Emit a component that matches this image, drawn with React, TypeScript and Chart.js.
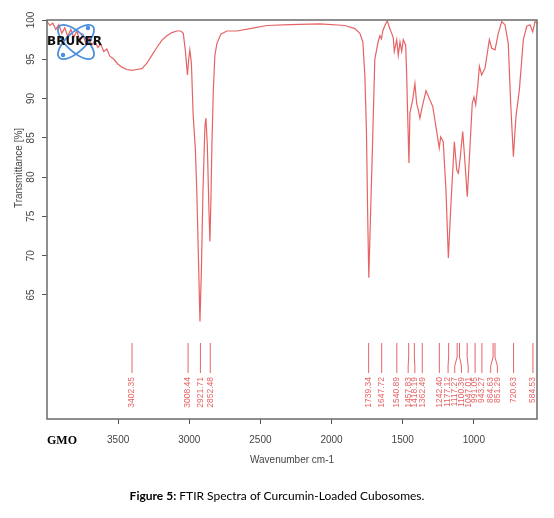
import React, { useEffect, useRef } from "react";
import { Chart, registerables } from "chart.js";
Chart.register(...registerables);

// Spectrum (wavenumber cm-1 -> transmittance %)
const wavenumbers = [
  4000, 3980, 3959, 3938, 3917, 3896, 3875, 3854, 3833, 3812,
  3790, 3769, 3748, 3727, 3706, 3685, 3664, 3643, 3622, 3601,
  3580, 3558, 3530, 3502, 3474, 3439, 3404, 3369, 3333, 3298,
  3263, 3228, 3193, 3158, 3122, 3087, 3059, 3042, 3027, 3013,
  3004, 2996, 2985, 2973, 2957, 2947, 2936, 2925, 2915, 2904,
  2890, 2883, 2873, 2862, 2855, 2848, 2841, 2831, 2820, 2806,
  2778, 2736, 2665, 2574, 2454, 2293, 2082, 1906, 1836, 1801,
  1780, 1766, 1755, 1745, 1738, 1731, 1720, 1710, 1696, 1673,
  1660, 1649, 1640, 1625, 1608, 1593, 1577, 1566, 1559, 1542,
  1531, 1519, 1507, 1496, 1479, 1472, 1465, 1456, 1449, 1430,
  1414, 1402, 1390, 1379, 1362, 1336, 1308, 1289, 1266, 1243,
  1233, 1215, 1196, 1179, 1162, 1137, 1120, 1109, 1097, 1078,
  1062, 1046, 1027, 1011, 999, 987, 973, 961, 945, 921,
  905, 891, 874, 851, 828, 804, 781, 758, 741, 722,
  704, 680, 652, 628, 605, 586, 570, 556,
];
const transmittance = [
  99.8, 99.3, 99.6, 98.8, 99.4, 98.3, 99.0, 97.9, 98.8, 97.8,
  98.6, 97.3, 98.2, 97.0, 97.8, 96.8, 97.3, 96.5, 96.9, 96.0,
  96.3, 95.4, 95.0, 94.4, 94.0, 93.7, 93.6, 93.7, 93.8, 94.5,
  95.5, 96.5, 97.4, 98.0, 98.4, 98.6, 98.6, 98.3, 96.0, 93.0,
  95.0, 96.2, 94.5, 88.0, 83.5, 78.0, 70.0, 61.6, 68.0, 78.0,
  86.5, 87.5, 84.0, 76.0, 71.8, 77.0, 84.0, 91.0, 95.5, 97.0,
  98.2, 98.6, 98.6, 98.9, 99.3, 99.4, 99.5, 99.3, 98.9, 98.3,
  97.2, 93.0, 86.0, 74.0, 67.2, 72.0, 79.0, 85.5, 95.0, 97.2,
  98.0, 97.6, 98.6, 99.3, 99.9, 99.0, 98.3, 97.7, 96.0, 97.5,
  95.5, 97.2, 96.0, 97.5, 96.8, 93.0, 87.9, 81.8, 88.2, 89.8,
  91.9, 89.4, 88.5, 87.5, 89.0, 91.0, 89.8, 89.0, 86.4, 83.7,
  85.1, 84.5, 78.4, 69.7, 76.2, 84.5, 80.9, 80.5, 82.2, 85.8,
  81.8, 77.5, 83.9, 89.4, 90.2, 89.2, 91.5, 94.1, 93.0, 93.9,
  95.8, 97.5, 96.4, 96.2, 98.3, 99.8, 99.4, 97.0, 89.4, 82.6,
  87.7, 91.1, 97.5, 99.2, 99.4, 98.5, 99.8, 99.6,
];

const xTicks = [3500, 3000, 2500, 2000, 1500, 1000];
const yTicks = [65, 70, 75, 80, 85, 90, 95, 100];
const xMin = 556;
const xMax = 4000;
const yMin = 49.2;
const yMax = 100;

const peakWavenumbers = [
  3402.35, 3008.44, 2921.71, 2852.48, 1739.34, 1647.72, 1540.89,
  1457.83, 1418.19, 1362.49, 1242.4, 1177.12, 1117.27, 1100.39,
  1047.01, 991.05, 943.27, 864.63, 851.29, 720.63, 584.53,
];
const peakLabels = peakWavenumbers.map((v) => v.toFixed(2));

const xTitle = "Wavenumber cm-1";
const yTitle = "Transmittance [%]";
const sampleName = "GMO";
const logoText = "BRUKER";

const RED = "rgba(226,72,74,0.85)";

function spreadLabels(xs: number[], gap: number): number[] {
  let groups = xs.map((x, i) => ({ idx: [i], sum: x }));
  let merged = true;
  while (merged) {
    merged = false;
    for (let i = 0; i < groups.length - 1; i++) {
      const g = groups[i];
      const h = groups[i + 1];
      const gc = g.sum / g.idx.length;
      const hc = h.sum / h.idx.length;
      const gRight = gc + ((g.idx.length - 1) / 2) * gap;
      const hLeft = hc - ((h.idx.length - 1) / 2) * gap;
      if (gRight + gap > hLeft) {
        groups.splice(i, 2, { idx: g.idx.concat(h.idx), sum: g.sum + h.sum });
        merged = true;
        break;
      }
    }
  }
  const out: number[] = new Array(xs.length);
  for (const g of groups) {
    const c = g.sum / g.idx.length;
    g.idx.forEach((id, k) => {
      out[id] = c + (k - (g.idx.length - 1) / 2) * gap;
    });
  }
  return out;
}

const overlayPlugin = {
  id: "overlay",
  afterDraw(chart: any) {
    const { ctx, chartArea: a, scales } = chart;
    const xs = scales.x;
    const ys = scales.y;
    ctx.save();

    // frame
    ctx.strokeStyle = "#6a6a6a";
    ctx.lineWidth = 1.5;
    ctx.strokeRect(a.left, a.top, a.right - a.left, a.bottom - a.top);

    // y tick labels (rotated)
    ctx.fillStyle = "#444";
    ctx.font = '10px "Liberation Sans", Arial, sans-serif';
    for (const v of yTicks) {
      const y = ys.getPixelForValue(v);
      ctx.save();
      ctx.translate(a.left - 15.5, y);
      ctx.rotate(-Math.PI / 2);
      ctx.textAlign = "center";
      ctx.textBaseline = "middle";
      ctx.fillText(String(v), 0, 0);
      ctx.restore();
    }

    // y title
    ctx.save();
    ctx.translate(a.left - 28, a.top + 148);
    ctx.rotate(-Math.PI / 2);
    ctx.textAlign = "center";
    ctx.textBaseline = "middle";
    ctx.fillStyle = "#444";
    ctx.font = '10px "Liberation Sans", Arial, sans-serif';
    ctx.fillText(yTitle, 0, 0);
    ctx.restore();

    // x title
    ctx.fillStyle = "#444";
    ctx.font = '10px "Liberation Sans", Arial, sans-serif';
    ctx.textAlign = "center";
    ctx.textBaseline = "middle";
    ctx.fillText(xTitle, (a.left + a.right) / 2, a.bottom + 41);

    // sample name
    ctx.fillStyle = "#000";
    ctx.font = 'bold 12px "Liberation Serif", "Times New Roman", serif';
    ctx.textAlign = "left";
    ctx.fillText(sampleName, a.left, a.bottom + 22);

    // peak markers
    const px = peakWavenumbers.map((w) => xs.getPixelForValue(w));
    const lx = spreadLabels(px, 6.7);
    ctx.strokeStyle = RED;
    ctx.lineWidth = 1;
    ctx.fillStyle = RED;
    ctx.font = '8.5px "Liberation Sans", Arial, sans-serif';
    px.forEach((x, i) => {
      const l = lx[i];
      ctx.beginPath();
      ctx.moveTo(x, a.bottom - 76);
      ctx.lineTo(x, a.bottom - 62);
      ctx.lineTo(l, a.bottom - 53);
      ctx.lineTo(l, a.bottom - 46);
      ctx.stroke();
      ctx.save();
      ctx.translate(l, a.bottom - 42);
      ctx.rotate(-Math.PI / 2);
      ctx.textAlign = "right";
      ctx.textBaseline = "middle";
      ctx.fillText(peakLabels[i], 0, 0);
      ctx.restore();
    });

    // logo
    const cx = a.left + 29;
    const cy = a.top + 22;
    ctx.strokeStyle = "#4a8fdc";
    ctx.fillStyle = "#4a8fdc";
    ctx.lineWidth = 1.8;
    [0.75, -0.75].forEach((ang) => {
      ctx.beginPath();
      ctx.ellipse(cx, cy, 23, 9.5, ang, 0, Math.PI * 2);
      ctx.stroke();
    });
    ctx.beginPath();
    ctx.arc(cx - 13, cy + 13, 2.2, 0, Math.PI * 2);
    ctx.fill();
    ctx.beginPath();
    ctx.arc(cx + 12, cy - 14, 2.2, 0, Math.PI * 2);
    ctx.fill();
    ctx.fillStyle = "#111";
    ctx.font = 'bold 12px "DejaVu Sans", sans-serif';
    ctx.textAlign = "left";
    ctx.textBaseline = "middle";
    ctx.fillText(logoText, a.left, cy);

    ctx.restore();
  },
};

export default function App() {
  const canvasRef = useRef<HTMLCanvasElement | null>(null);

  useEffect(() => {
    const canvas = canvasRef.current;
    if (!canvas) return;
    const points = wavenumbers.map((w, i) => ({ x: w, y: transmittance[i] }));
    const chart = new Chart(canvas, {
      type: "line",
      data: {
        datasets: [
          {
            data: points,
            borderColor: RED,
            borderWidth: 1.2,
            pointRadius: 0,
            tension: 0,
            fill: false,
          },
        ],
      },
      options: {
        responsive: false,
        animation: false,
        devicePixelRatio: 1,
        layout: { padding: { left: 0, right: 17, top: 20, bottom: 0 } },
        plugins: { legend: { display: false }, tooltip: { enabled: false } },
        scales: {
          x: {
            type: "linear",
            reverse: true,
            min: xMin,
            max: xMax,
            afterBuildTicks: (s: any) => {
              s.ticks = xTicks.map((v) => ({ value: v }));
            },
            afterFit: (s: any) => {
              s.height = 99;
            },
            ticks: {
              color: "#444",
              font: { family: "Liberation Sans", size: 10 },
              padding: 10,
              maxRotation: 0,
              autoSkip: false,
              callback: (v: any) => String(v),
            },
            grid: {
              drawOnChartArea: false,
              drawTicks: true,
              tickLength: 5,
              color: "#555",
            },
            border: { display: false },
          },
          y: {
            type: "linear",
            min: yMin,
            max: yMax,
            afterBuildTicks: (s: any) => {
              s.ticks = yTicks.map((v) => ({ value: v }));
            },
            afterFit: (s: any) => {
              s.width = 47;
            },
            ticks: { display: false },
            grid: {
              drawOnChartArea: false,
              drawTicks: true,
              tickLength: 5,
              color: "#555",
            },
            border: { display: false },
          },
        },
      },
      plugins: [overlayPlugin],
    } as any);
    return () => chart.destroy();
  }, []);

  return (
    <div style={{ position: "fixed", left: 0, top: 0, width: 554, height: 518, background: "#fff" }}>
      <canvas ref={canvasRef} width={554} height={518} style={{ display: "block" }} />
      <div
        style={{
          position: "absolute",
          left: 0,
          top: 488,
          width: 554,
          textAlign: "center",
          fontFamily: "Lato, 'Liberation Sans', sans-serif",
          fontSize: 12,
          color: "#000",
        }}
      >
        <b>Figure 5:</b> FTIR Spectra of Curcumin-Loaded Cubosomes.
      </div>
    </div>
  );
}
